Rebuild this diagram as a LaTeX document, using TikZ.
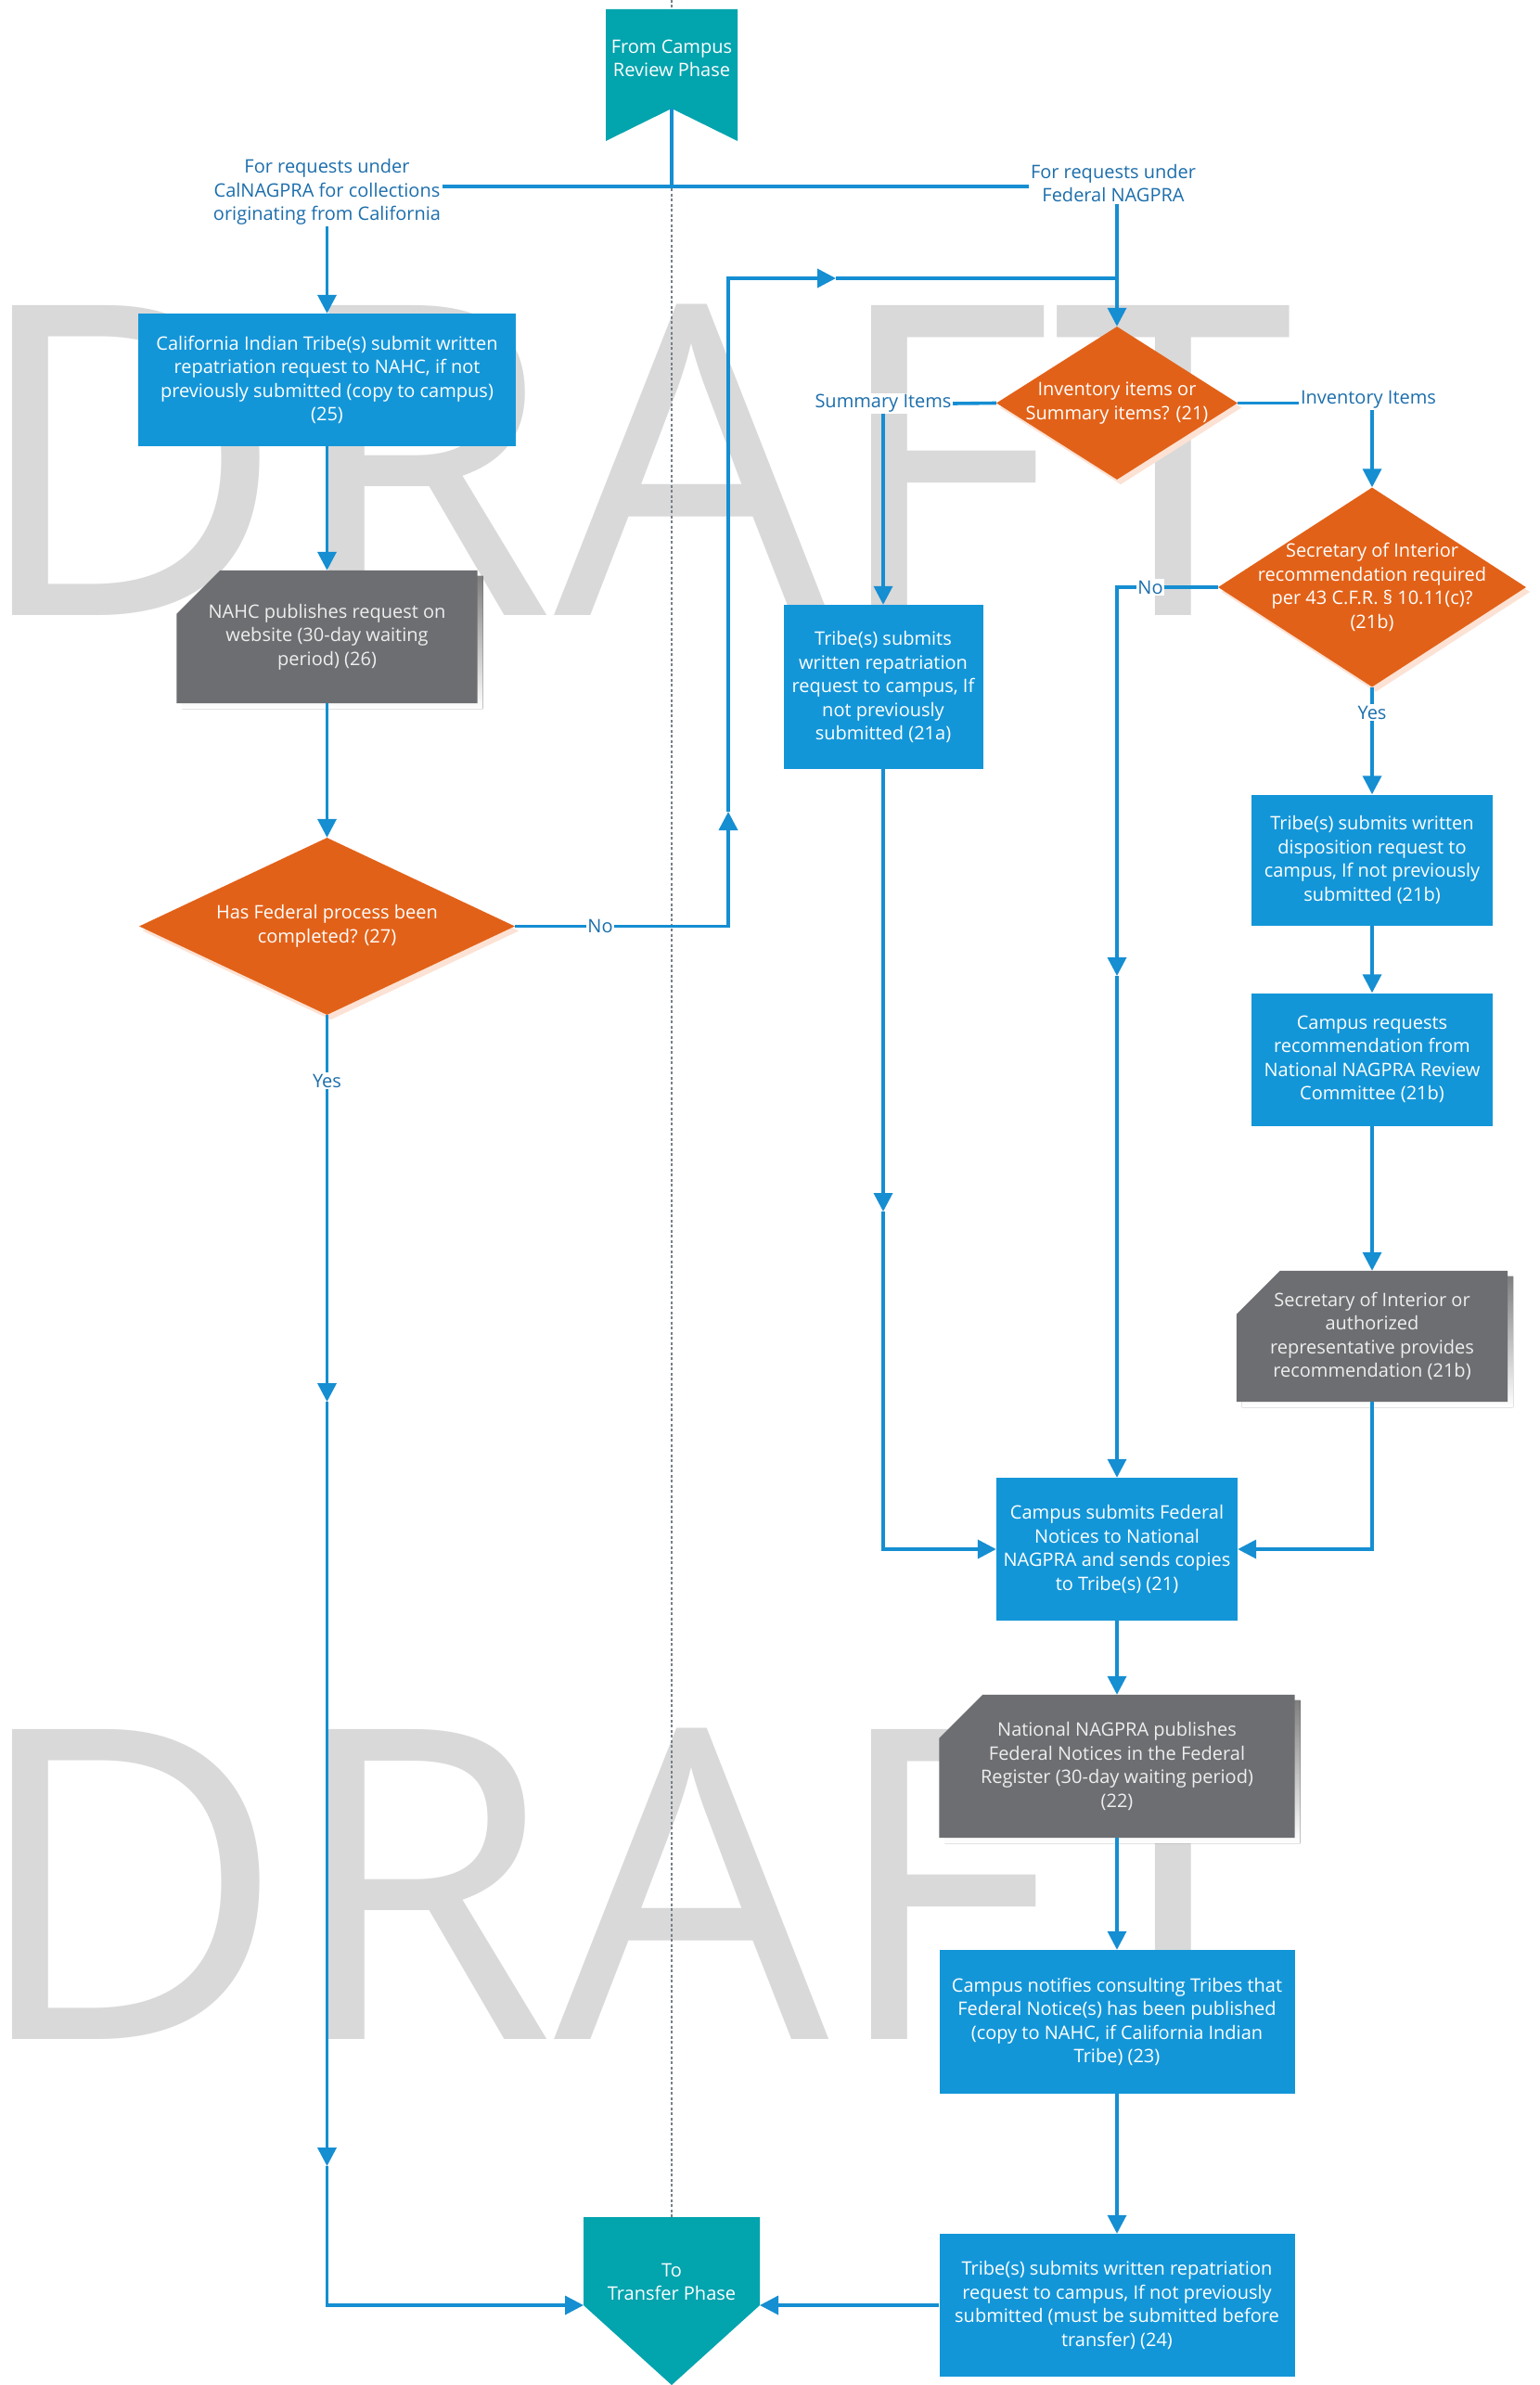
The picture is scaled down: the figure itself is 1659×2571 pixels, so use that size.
\documentclass[tikz,border=0pt]{standalone}
\usepackage{fontspec}
\setmainfont{Open Sans}
\usetikzlibrary{arrows.meta,shapes.geometric,calc}
\pgfdeclarelayer{bg}
\pgfsetlayers{bg,main}
\definecolor{boxblue}{RGB}{19,150,216}
\definecolor{lineblue}{RGB}{21,142,210}
\definecolor{lblblue}{RGB}{28,110,172}
\definecolor{orng}{RGB}{226,97,24}
\definecolor{grybox}{RGB}{109,110,113}
\definecolor{tealbox}{RGB}{2,164,174}
\definecolor{wmgray}{RGB}{217,217,217}
\definecolor{shade}{RGB}{238,238,238}
\definecolor{oshade}{RGB}{252,226,212}
\definecolor{dotgray}{RGB}{120,128,136}
\definecolor{gtext}{RGB}{238,238,238}
\tikzset{
  base/.style={font=\fontsize{20pt}{25.5pt}\selectfont, align=center},
  bbox/.style={base, rectangle, fill=boxblue, text=white, inner sep=2pt},
  gbox/.style={base, rectangle, text=gtext, inner sep=2pt},
  dmd/.style={diamond, fill=orng, inner sep=0pt},
  dtext/.style={base, text=white, inner sep=0pt},
  lbl/.style={base, text=lblblue, fill=white, inner sep=1.5pt},
  conn/.style={draw=lineblue, line width=3.6pt},
  arr/.style={conn, -{Triangle[length=20pt,width=20pt]}},
  wmark/.style={font=\fontsize{468pt}{468pt}\selectfont, text=wmgray, inner sep=0pt, anchor=base west},
  dotline/.style={draw=dotgray, line width=1.4pt, dash pattern=on 3pt off 2.5pt}
}
\begin{document}
\begin{tikzpicture}[x=1pt,y=-1pt]
\useasboundingbox (0,0) rectangle (1659,2571);

% watermark and dotted divider
\begin{pgfonlayer}{bg}
\node[wmark] (wm1) at (-33,663) {DRAFT};
\node[wmark] (wm2) at (-33,2198) {DRAFT};
\coordinate (dtop) at (724,0);
\coordinate (dbot) at (724,2390);
\draw[dotline] (dtop) -- (dbot);
\end{pgfonlayer}

% phase markers
\begin{pgfonlayer}{bg}
\fill[tealbox] (653,10) -- (795,10) -- (795,152) -- (724,117) -- (653,152) -- cycle;
\fill[tealbox] (629,2390) -- (819,2390) -- (819,2485) -- (724,2571) -- (629,2485) -- cycle;
\end{pgfonlayer}
\node[base, text=white] (fromc) at (724,63) {From Campus\\Review Phase};
\coordinate (fromtip) at (724,117);
\coordinate (j0) at (724,201);
\node[base, text=white] (tr) at (724,2460) {To\\Transfer Phase};
\coordinate (trW) at (629,2485);
\coordinate (trE) at (819,2485);

% branch labels
\node[lbl] (cal) at (352.5,207) {For requests under\\CalNAGPRA for collections\\originating from California};
\node[lbl] (fed) at (1200,197.5) {For requests under\\Federal NAGPRA};

% left column
\node[bbox, minimum width=407pt, minimum height=143pt] (b25) at (352.5,409.5)
  {California Indian Tribe(s) submit written\\repatriation request to NAHC, if not\\previously submitted (copy to campus)\\(25)};
\node[gbox, minimum width=324pt, minimum height=143pt] (n26) at (352.5,686.5)
  {NAHC publishes request on\\website (30-day waiting\\period) (26)};
\node[dmd, minimum width=405pt, minimum height=191pt] (d27) at (352.5,998.5) {};
\node[dtext] (d27t) at (d27.center) {Has Federal process been\\completed? (27)};

% federal branch
\node[dmd, minimum width=260pt, minimum height=165pt] (d21) at (1204,434.5) {};
\node[dtext] (d21t) at (d21.center) {Inventory items or\\Summary items? (21)};
\node[lbl] (sum) at (952,435) {Summary Items};
\node[lbl] (inv) at (1475,431) {Inventory Items};
\node[bbox, minimum width=215pt, minimum height=177pt] (b21a) at (952,740.5)
  {Tribe(s) submits\\written repatriation\\request to campus, If\\not previously\\submitted (21a)};
\node[dmd, minimum width=332pt, minimum height=215pt] (d21b) at (1479,633) {};
\node[dtext] (d21bt) at (d21b.center) {Secretary of Interior\\recommendation required\\per 43 C.F.R. § 10.11(c)?\\(21b)};
\node[bbox, minimum width=260pt, minimum height=141pt] (t21b) at (1479,927)
  {Tribe(s) submits written\\disposition request to\\campus, If not previously\\submitted (21b)};
\node[bbox, minimum width=260pt, minimum height=143pt] (c21b) at (1479,1142)
  {Campus requests\\recommendation from\\National NAGPRA Review\\Committee (21b)};
\node[gbox, minimum width=292pt, minimum height=141pt] (s21b) at (1479,1440.5)
  {Secretary of Interior or\\authorized\\representative provides\\recommendation (21b)};
\node[bbox, minimum width=260pt, minimum height=154pt] (b21) at (1204,1670)
  {Campus submits Federal\\Notices to National\\NAGPRA and sends copies\\to Tribe(s) (21)};
\node[gbox, minimum width=383pt, minimum height=154pt] (n22) at (1204,1904)
  {National NAGPRA publishes\\Federal Notices in the Federal\\Register (30-day waiting period)\\(22)};
\node[bbox, minimum width=383pt, minimum height=155pt] (b23) at (1204,2179.5)
  {Campus notifies consulting Tribes that\\Federal Notice(s) has been published\\(copy to NAHC, if California Indian\\Tribe) (23)};
\node[bbox, minimum width=383pt, minimum height=154pt] (b24) at (1204,2485)
  {Tribe(s) submits written repatriation\\request to campus, If not previously\\submitted (must be submitted before\\transfer) (24)};

% gray cut-corner boxes and shadows
\begin{pgfonlayer}{bg}
\foreach \n in {n26,s21b,n22}{
  \fill[shade] ($(\n.north west)+(53,6)$) -- ($(\n.north east)+(6,6)$) -- ($(\n.south east)+(6,6)$)
     -- ($(\n.south west)+(6,6)$) -- ($(\n.north west)+(6,53)$) -- cycle;
  \fill[grybox] ($(\n.north west)+(47,0)$) -- (\n.north east) -- (\n.south east)
     -- (\n.south west) -- ($(\n.north west)+(0,47)$) -- cycle;
}
\foreach \d in {d27,d21,d21b}{
  \fill[oshade] ($(\d.north)+(4,5)$) -- ($(\d.east)+(4,5)$) -- ($(\d.south)+(4,5)$) -- ($(\d.west)+(4,5)$) -- cycle;
}
\end{pgfonlayer}

% helper coordinates for bends and mid-line arrows
\coordinate (lpA) at (785,998.5);
\coordinate (lpU) at (785,875);
\coordinate (lpB) at (785,300);
\coordinate (lpR) at (901,300);
\coordinate (lpC) at (1204,300);
\coordinate (nC) at (1204,633);
\coordinate (nU) at (1204,1052);
\coordinate (aU) at (952,1306);
\coordinate (yU1) at (352.5,1511);
\coordinate (yU2) at (352.5,2335);

% connectors
\draw[conn] (fromtip) -- (j0);
\draw[conn] (cal.east |- j0) -- (fed.west |- j0);
\draw[arr] (cal.south) -- (b25.north);
\draw[arr] (b25.south) -- (n26.north);
\draw[arr] (n26.south) -- (d27.north);
\draw[arr] (d27.east) -- (lpA) -- (lpU);
\draw[arr] (lpU) -- (lpB) -- (lpR);
\draw[conn] (lpR) -- (lpC);
\draw[arr] (fed.south -| d21.north) -- (d21.north);
\draw[conn] (d21.west) -- (sum.east);
\draw[arr] (sum.south) -- (b21a.north);
\draw[conn] (d21.east) -- (d21.east -| inv.west);
\draw[arr] (inv.south -| d21b.north) -- (d21b.north);
\draw[arr] (d21b.west) -- (nC) -- (nU);
\draw[arr] (nU) -- (b21.north);
\draw[arr] (d21b.south) -- (t21b.north);
\draw[arr] (t21b.south) -- (c21b.north);
\draw[arr] (c21b.south) -- (s21b.north);
\draw[arr] (s21b.south) -- (s21b.south |- b21.east) -- (b21.east);
\draw[arr] (b21a.south) -- (aU);
\draw[arr] (aU) -- (aU |- b21.west) -- (b21.west);
\draw[arr] (b21.south) -- (n22.north);
\draw[arr] (n22.south) -- (b23.north);
\draw[arr] (b23.south) -- (b24.north);
\draw[arr] (b24.west) -- (trE);
\draw[arr] (d27.south) -- (yU1);
\draw[arr] (yU1) -- (yU2);
\draw[arr] (yU2) -- (yU2 |- trW) -- (trW);

% connector labels
\node[lbl] (no1) at (647,998.5) {No};
\node[lbl] (yes1) at (352.5,1165) {Yes};
\node[lbl] (no2) at (1240,633) {No};
\node[lbl] (yes2) at (1479,768) {Yes};
\end{tikzpicture}
\end{document}
